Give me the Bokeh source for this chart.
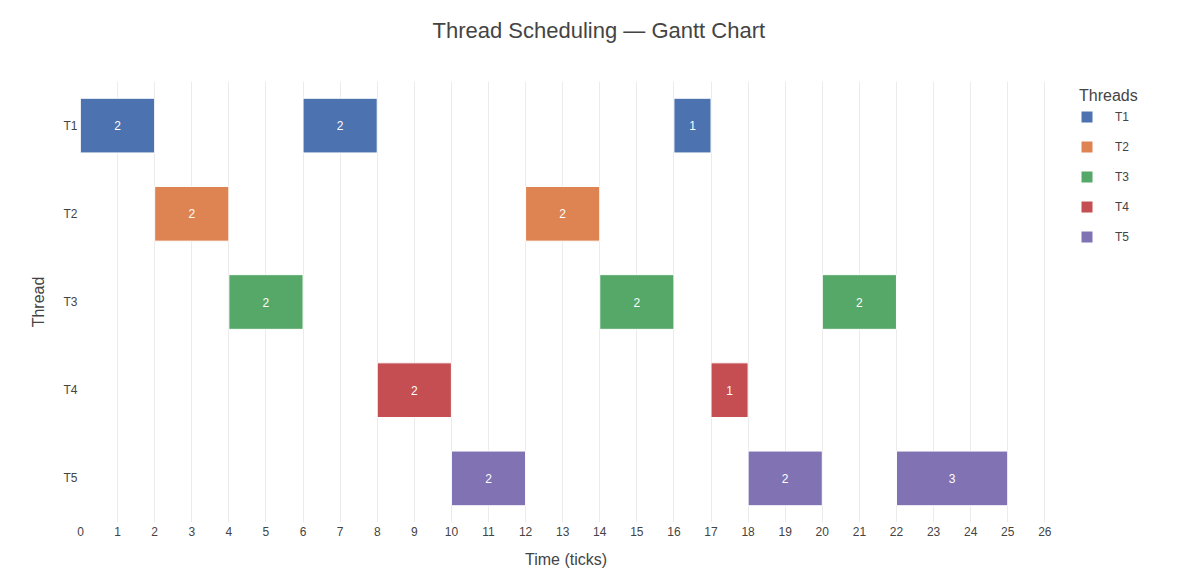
from bokeh.plotting import figure
from bokeh.models import (ColumnDataSource, FactorRange, Range1d, FixedTicker,
                          Legend, LegendItem, LabelSet)
from bokeh.core.properties import value
from bokeh.embed import file_html
from bokeh.resources import INLINE

# Scheduling slices per thread: start tick and duration
threads = ["T1", "T2", "T3", "T4", "T5"]
colors = ["#4C72B0", "#DD8452", "#55A868", "#C44E52", "#8172B3"]

t1_start = [0, 6, 16]
t1_dur = [2, 2, 1]
t2_start = [2, 12]
t2_dur = [2, 2]
t3_start = [4, 14, 20]
t3_dur = [2, 2, 2]
t4_start = [8, 17]
t4_dur = [2, 1]
t5_start = [10, 18, 22]
t5_dur = [2, 2, 3]

starts = [t1_start, t2_start, t3_start, t4_start, t5_start]
durations = [t1_dur, t2_dur, t3_dur, t4_dur, t5_dur]
x_ticks = list(range(0, 27))

FONT = "Liberation Sans"
TEXT = "#444444"

p = figure(
    frame_width=971, frame_height=441,
    y_range=FactorRange(factors=list(reversed(threads)), range_padding=0),
    x_range=Range1d(0, 26.18),
    output_backend="svg", toolbar_location=None,
    min_border_left=80, min_border_right=145, min_border_top=81, min_border_bottom=61,
)
p.outline_line_color = None
p.background_fill_color = "white"

# a blank second line keeps the title well clear of the plot area;
# left-aligned with an offset so it sits centred on the whole page
p.title.text = "Thread Scheduling \u2014 Gantt Chart\n "
p.title.align = "left"
p.title.text_font = FONT
p.title.text_font_size = "22px"
p.title.text_font_style = "normal"
p.title.text_color = TEXT
p.title.offset = 352
p.title.standoff = 27

items = []
for name, color, st, du in zip(threads, colors, starts, durations):
    src = ColumnDataSource(dict(
        y=[name] * len(st),
        left=st,
        right=[s + d for s, d in zip(st, du)],
        mid=[s + d / 2 for s, d in zip(st, du)],
        label=[str(d) for d in du],
    ))
    r = p.hbar(y="y", left="left", right="right", height=0.62, source=src,
               fill_color=color, line_color="white", line_width=1)
    items.append(LegendItem(label=name, renderers=[r]))
    labels = LabelSet(x="mid", y="y", text="label", source=src,
                      text_align="center", text_baseline="middle",
                      text_color="white", text_font_size="12px",
                      text_font=value(FONT))
    p.add_layout(labels)

# legend sits in the right-hand panel, offset from the panel's bottom-left
legend = Legend(items=items, location=(28, 278))
legend.title = "Threads"
legend.title_text_font = FONT
legend.title_text_font_size = "16px"
legend.title_text_color = TEXT
legend.title_text_font_style = "normal"
legend.title_standoff = 4
legend.label_text_font = FONT
legend.label_text_font_size = "12px"
legend.label_text_color = TEXT
legend.glyph_width = 15
legend.glyph_height = 15
legend.label_height = 15
legend.spacing = 15
legend.label_standoff = 21
legend.padding = 6
legend.margin = 0
legend.border_line_color = None
legend.background_fill_alpha = 0
legend.inactive_fill_alpha = 0
p.add_layout(legend, "right")

# x axis
p.xaxis.ticker = FixedTicker(ticks=x_ticks)
p.xaxis.axis_label = "Time (ticks)"
p.xaxis.axis_line_color = None
p.xaxis.major_tick_line_color = None
p.xaxis.minor_tick_line_color = None
p.xaxis.major_tick_out = 0
p.xaxis.major_label_standoff = 4
p.xaxis.major_label_text_font = FONT
p.xaxis.major_label_text_font_size = "12px"
p.xaxis.major_label_text_color = TEXT
p.xaxis.axis_label_text_font = FONT
p.xaxis.axis_label_text_font_size = "16px"
p.xaxis.axis_label_text_font_style = "normal"
p.xaxis.axis_label_text_color = TEXT
p.xaxis.axis_label_standoff = 12

# y axis
p.yaxis.axis_label = "Thread"
p.yaxis.axis_line_color = None
p.yaxis.major_tick_line_color = None
p.yaxis.minor_tick_line_color = None
p.yaxis.major_tick_out = 0
p.yaxis.major_label_standoff = 3
p.yaxis.major_label_text_font = FONT
p.yaxis.major_label_text_font_size = "12px"
p.yaxis.major_label_text_color = TEXT
p.yaxis.axis_label_text_font = FONT
p.yaxis.axis_label_text_font_size = "16px"
p.yaxis.axis_label_text_font_style = "normal"
p.yaxis.axis_label_text_color = TEXT
p.yaxis.axis_label_standoff = 13

p.xgrid.grid_line_color = "#ebebeb"
p.xgrid.grid_line_width = 1
p.ygrid.grid_line_color = None

open("out.html", "w").write(file_html(p, INLINE))
